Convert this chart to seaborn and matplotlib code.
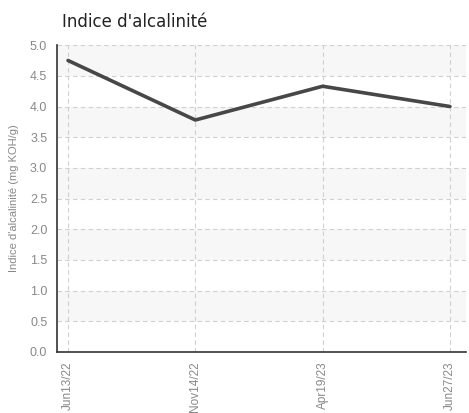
import numpy as np
import pandas as pd
import matplotlib.pyplot as plt
import seaborn as sns

# data
dates = ['Jun13/22', 'Nov14/22', 'Apr19/23', 'Jun27/23']
alcalinite = [4.75, 3.78, 4.33, 4.0]
yticks = [0.0, 0.5, 1.0, 1.5, 2.0, 2.5, 3.0, 3.5, 4.0, 4.5, 5.0]

df = pd.DataFrame({'date': dates, 'val': alcalinite})
df['pos'] = range(len(dates))

sns.set_style('white')
plt.rcParams['font.family'] = ['DejaVu Sans']
narrow = 'Liberation Sans'

fig = plt.figure(figsize=(4.69, 4.13), dpi=100)
ax = fig.add_axes([0.1215, 0.1477, 0.872, 0.743])

# alternating bands
for lo in np.arange(0.5, 5.0, 1.0):
    ax.axhspan(lo, lo + 0.5, color='#f7f7f7', zorder=0, lw=0)

sns.lineplot(data=df, x='pos', y='val', color='#474747', linewidth=2.6, ax=ax, zorder=3)

ax.set_xlim(-0.087, 3.126)
ax.set_ylim(0, 5.0)
ax.set_xticks(range(len(dates)))
ax.set_xticklabels(dates, rotation=90, fontsize=8.5, color='#888888', family=narrow)
ax.set_yticks(yticks)
ax.set_yticklabels(['%.1f' % t for t in yticks], fontsize=9, color='#888888', family=narrow)
ax.grid(True, color='#d0d0d0', linestyle=(0, (4, 3)), linewidth=0.8)
ax.set_axisbelow(True)

for s in ['top', 'right']:
    ax.spines[s].set_visible(False)
ax.spines['left'].set_color('#333333')
ax.spines['bottom'].set_color('#333333')
ax.spines['left'].set_linewidth(1.2)
ax.spines['bottom'].set_linewidth(1.2)
ax.tick_params(axis='both', length=5, width=1.2, color='#222222', direction='out', pad=2)

ax.set_xlabel('')
ax.set_ylabel("Indice d'alcalinité (mg KOH/g)", fontsize=8, color='#888888', family=narrow, labelpad=8)
fig.text(0.132, 0.935, "Indice d'alcalinité", fontsize=12, color='#222222')

fig.savefig('out.png', dpi=100)
